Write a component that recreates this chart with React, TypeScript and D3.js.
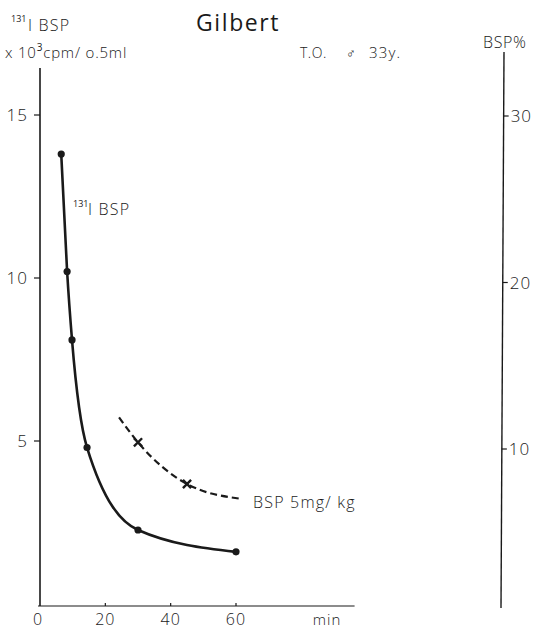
import { useEffect, useRef } from 'react';
import * as d3 from 'd3';

// 131I BSP, x10^3 cpm / 0.5 ml (left axis)
const timeSolid = [6.5, 8.3, 9.8, 14.4, 30, 60];
const cpmSolid = [13.8, 10.2, 8.1, 4.8, 2.27, 1.6];

// BSP 5mg/kg, BSP% (right axis)
const timeDashed = [24.2, 30, 45, 61.8];
const bspDashed = [11.9, 10.4, 7.9, 7.0];
const dashedMarked = [false, true, true, false];

const xTicks = [0, 20, 40, 60];
const leftTicks = [5, 10, 15];
const rightTicks = [10, 20, 30];

const font = "'Open Sans', 'DejaVu Sans', sans-serif";

export default function App() {
  const svgRef = useRef<SVGSVGElement | null>(null);

  useEffect(() => {
    if (!svgRef.current) return;
    const svg = d3.select(svgRef.current);
    svg.selectAll('*').remove();

    const width = 539;
    const height = 630;
    svg.attr('width', width).attr('height', height);

    const x = d3.scaleLinear().domain([0, 60]).range([40, 236]);
    const yLeft = d3.scaleLinear().domain([0, 15]).range([604, 115]);
    const yRight = d3.scaleLinear().domain([10, 30]).range([449, 116]);

    const ink = '#1a1a1a';

    // Left axis
    svg.append('line')
      .attr('x1', x(0)).attr('x2', x(0))
      .attr('y1', 68).attr('y2', yLeft(0) + 2)
      .attr('stroke', ink).attr('stroke-width', 1.6);

    svg.append('g')
      .selectAll('line')
      .data(leftTicks)
      .join('line')
      .attr('x1', x(0) - 6).attr('x2', x(0))
      .attr('y1', (d) => yLeft(d)).attr('y2', (d) => yLeft(d))
      .attr('stroke', ink).attr('stroke-width', 1.2);

    svg.append('g')
      .selectAll('text')
      .data(leftTicks)
      .join('text')
      .attr('x', x(0) - 12)
      .attr('y', (d) => yLeft(d) + 6)
      .attr('text-anchor', 'end')
      .attr('font-family', font)
      .attr('font-size', 17)
      .attr('font-weight', 300)
      .attr('letter-spacing', 1)
      .attr('fill', ink)
      .text((d) => d);

    // Bottom axis
    svg.append('line')
      .attr('x1', x(0) - 2).attr('x2', x(96.3))
      .attr('y1', 606).attr('y2', 606)
      .attr('stroke', ink).attr('stroke-width', 1.2);

    svg.append('g')
      .selectAll('line')
      .data(xTicks.slice(1))
      .join('line')
      .attr('x1', (d) => x(d)).attr('x2', (d) => x(d))
      .attr('y1', 603).attr('y2', 606)
      .attr('stroke', ink).attr('stroke-width', 1.2);

    svg.append('g')
      .selectAll('text')
      .data(xTicks)
      .join('text')
      .attr('x', (d) => x(d) - (d === 0 ? 2 : 0))
      .attr('y', 625)
      .attr('text-anchor', 'middle')
      .attr('font-family', font)
      .attr('font-size', 16)
      .attr('font-weight', 300)
      .attr('letter-spacing', 1)
      .attr('fill', ink)
      .text((d) => d);

    svg.append('text')
      .attr('x', 327).attr('y', 625)
      .attr('text-anchor', 'middle')
      .attr('font-family', font)
      .attr('font-size', 15)
      .attr('font-weight', 300)
      .attr('letter-spacing', 1)
      .attr('fill', ink)
      .text('min');

    // Right axis
    svg.append('line')
      .attr('x1', 504).attr('x2', 501)
      .attr('y1', 52).attr('y2', 608)
      .attr('stroke', ink).attr('stroke-width', 1.4);

    const rightX = (v: number) => 504 - 3 * ((yRight(v) - 52) / 556);

    svg.append('g')
      .selectAll('line')
      .data(rightTicks)
      .join('line')
      .attr('x1', (d) => rightX(d)).attr('x2', (d) => rightX(d) + 5)
      .attr('y1', (d) => yRight(d)).attr('y2', (d) => yRight(d))
      .attr('stroke', ink).attr('stroke-width', 1.2);

    svg.append('g')
      .selectAll('text')
      .data(rightTicks)
      .join('text')
      .attr('x', (d) => rightX(d) + 7)
      .attr('y', (d) => yRight(d) + 6)
      .attr('font-family', font)
      .attr('font-size', 17)
      .attr('font-weight', 300)
      .attr('letter-spacing', 1)
      .attr('fill', ink)
      .text((d) => d);

    // Solid curve
    const solid = timeSolid.map((t, i) => [t, cpmSolid[i]] as [number, number]);
    const solidLine = d3.line<[number, number]>()
      .x((d) => x(d[0]))
      .y((d) => yLeft(d[1]))
      .curve(d3.curveMonotoneX);

    svg.append('path')
      .datum(solid)
      .attr('fill', 'none')
      .attr('stroke', ink)
      .attr('stroke-width', 2.6)
      .attr('stroke-linejoin', 'round')
      .attr('d', solidLine);

    svg.append('g')
      .selectAll('circle')
      .data(solid)
      .join('circle')
      .attr('cx', (d) => x(d[0]))
      .attr('cy', (d) => yLeft(d[1]))
      .attr('r', 3.6)
      .attr('fill', ink);

    // Dashed curve
    const dashed = timeDashed.map((t, i) => [t, bspDashed[i]] as [number, number]);
    const dashedLine = d3.line<[number, number]>()
      .x((d) => x(d[0]))
      .y((d) => yRight(d[1]))
      .curve(d3.curveMonotoneX);

    svg.append('path')
      .datum(dashed)
      .attr('fill', 'none')
      .attr('stroke', ink)
      .attr('stroke-width', 2.2)
      .attr('stroke-dasharray', '7,4')
      .attr('d', dashedLine);

    const markSymbol = d3.symbol().type(d3.symbolTimes).size(45);
    svg.append('g')
      .selectAll('path')
      .data(dashed.filter((_, i) => dashedMarked[i]))
      .join('path')
      .attr('transform', (d) => `translate(${x(d[0])},${yRight(d[1])})`)
      .attr('d', markSymbol)
      .attr('fill', 'none')
      .attr('stroke', ink)
      .attr('stroke-width', 2.4);

    // Texts
    const addText = (tx: number, ty: number, size: number, str: string, spacing = 1, weight = 300) =>
      svg.append('text')
        .attr('x', tx).attr('y', ty)
        .attr('font-family', font)
        .attr('font-size', size)
        .attr('font-weight', weight)
        .attr('letter-spacing', spacing)
        .attr('fill', ink)
        .text(str);

    addText(11, 22, 9, '131', 0, 400);
    addText(28, 31, 16, 'I BSP', 1.2);

    const unit = svg.append('text')
      .attr('x', 5).attr('y', 58)
      .attr('font-family', font)
      .attr('font-size', 15)
      .attr('font-weight', 300)
      .attr('letter-spacing', 0.8)
      .attr('fill', ink);
    unit.append('tspan').text('x 10');
    unit.append('tspan').attr('dy', -7).attr('font-size', 10).attr('font-weight', 400).text('3');
    unit.append('tspan').attr('dy', 7).text('cpm/ o.5ml');

    svg.append('text')
      .attr('x', 196).attr('y', 31)
      .attr('font-family', font)
      .attr('font-size', 23)
      .attr('font-weight', 400)
      .attr('letter-spacing', 1.6)
      .attr('fill', ink)
      .text('Gilbert');

    addText(300, 58, 14, 'T.O.', 0.5);
    addText(346, 58, 13, '♂', 0, 300);
    addText(369, 58, 15, '33y.', 1.2);

    addText(483, 48, 16, 'BSP%', 0.6);

    addText(73, 207, 9, '131', 0, 400);
    addText(88, 215, 16, 'I BSP', 1.2);

    addText(253, 508, 16, 'BSP 5mg/ kg', 1.2);
  }, []);

  return (
    <div style={{ position: 'absolute', left: 0, top: 0 }}>
      <svg ref={svgRef} style={{ display: 'block', background: '#fff' }}></svg>
    </div>
  );
}
